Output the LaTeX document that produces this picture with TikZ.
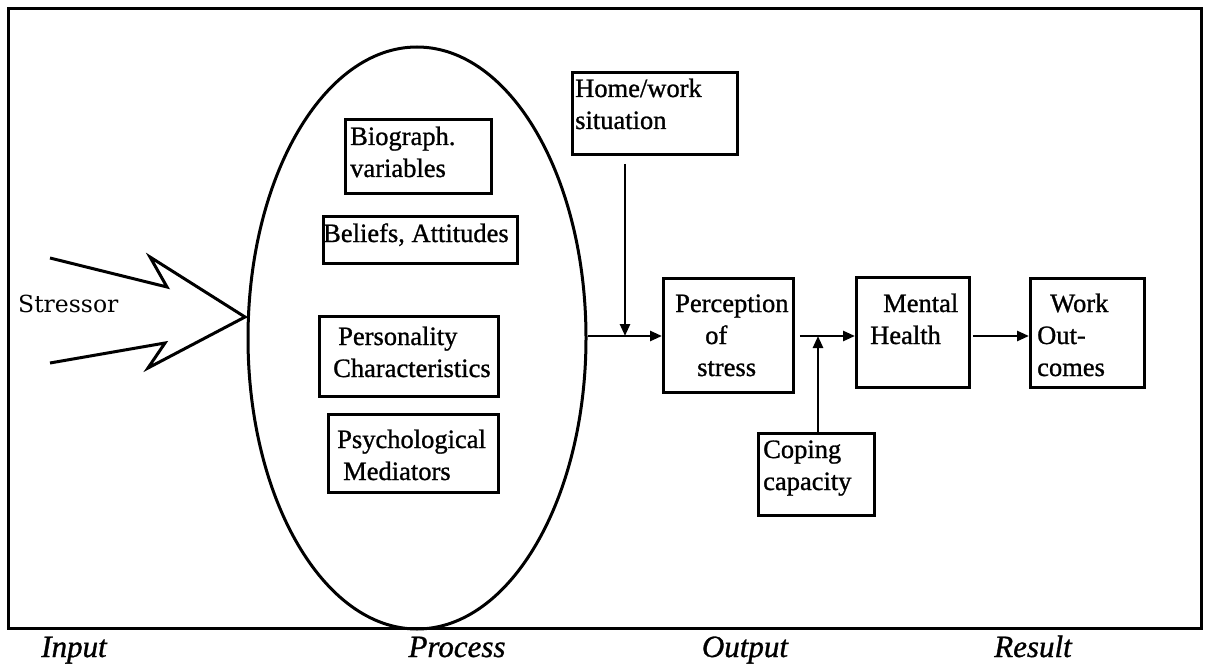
\documentclass[tikz,border=0pt]{standalone}
\usepackage{fontspec}
\setmainfont{Liberation Serif}[FakeBold=1]
\newfontfamily\slabfont{DejaVu Serif}
\usetikzlibrary{shapes.geometric,arrows.meta}
\begin{document}
\begin{tikzpicture}[x=1pt,y=-1pt,
  frame/.style={line width=3pt},
  box/.style={draw,line width=2.8pt,rectangle,inner sep=0pt,anchor=north west},
  txt/.style={inner sep=0pt,anchor=base west,font=\fontsize{26.5}{32}\selectfont},
  stage/.style={inner sep=0pt,anchor=base,font=\fontsize{31}{36}\selectfont\itshape},
  link/.style={line width=2.6pt,-{Triangle[length=12pt,width=10pt]}},
  spike/.style={line width=3pt,line join=miter}]
\useasboundingbox (0,0) rectangle (1207,666);
% outer frame
\draw[frame] (8,9) rectangle (1201,628);

% process ellipse with its inner boxes
\node[draw,ellipse,line width=3pt,minimum width=338pt,minimum height=582pt,inner sep=0pt] (proc) at (417,338) {};
\node[box,minimum width=146pt,minimum height=74pt] (bio) at (344,118) {};
\node[box,minimum width=194pt,minimum height=47pt] (bel) at (322,215) {};
\node[box,minimum width=179pt,minimum height=80pt] (pers) at (318,315) {};
\node[box,minimum width=170pt,minimum height=78pt] (psy) at (327,413) {};

% output side boxes
\node[box,minimum width=165pt,minimum height=82pt] (home) at (571,71) {};
\node[box,minimum width=130pt,minimum height=114pt] (perc) at (662,277) {};
\node[box,minimum width=116pt,minimum height=82pt] (cop) at (757,432) {};
\node[box,minimum width=113pt,minimum height=110pt] (ment) at (855,276) {};
\node[box,minimum width=114pt,minimum height=109pt] (work) at (1029,277) {};

% box texts
\node[txt] (tbio) at (350,145) {\vtop{\hbox{Biograph.}\hbox{variables}}};
\node[txt] (tbel) at (323,242) {Beliefs, Attitudes};
\node[txt] (tpers) at (333,345) {\vtop{\hbox{\hspace*{5pt}Personality}\hbox{Characteristics}}};
\node[txt] (tpsy) at (337,448) {\vtop{\hbox{Psychological}\hbox{\hspace*{6pt}Mediators}}};
\node[txt] (thome) at (575,97) {\vtop{\hbox{Home/work}\hbox{situation}}};
\node[txt] (tperc) at (675,312) {\vtop{\hbox{Perception}\hbox{\hspace*{30pt}of}\hbox{\hspace*{22pt}stress}}};
\node[txt] (tcop) at (763,458) {\vtop{\hbox{Coping}\hbox{capacity}}};
\node[txt] (tment) at (870,312) {\vtop{\hbox{\hspace*{13pt}Mental}\hbox{Health}}};
\node[txt] (twork) at (1037,312) {\vtop{\hbox{\hspace*{13pt}Work}\hbox{Out-}\hbox{comes}}};

% stressor input
\node[inner sep=0pt,anchor=base west,font=\slabfont\fontsize{23.5}{28}\selectfont] (stress) at (18,312) {Stressor};
\coordinate (tip) at (245,317);
\draw[spike] (50,258) -- (167,287) -- (150,257) -- (tip) -- (148,368) -- (165,343) -- (50,363);

% connectors
\coordinate (hw) at (625,336);
\coordinate (cp) at (818,336);
\draw[link] (proc.east |- cp) -- (perc.west |- cp);
\draw[link,shorten <=8pt] (home.south -| hw) -- (hw);
\draw[link,shorten <=5pt] (perc.east |- cp) -- (ment.west |- cp);
\draw[link] (cop.north -| cp) -- (cp);
\draw[link,shorten <=2pt] (ment.east |- cp) -- (work.west |- cp);

% stage labels
\node[stage] (lin) at (74,657) {Input};
\node[stage] (lpr) at (457,657) {Process};
\node[stage] (lout) at (745,657) {Output};
\node[stage] (lres) at (1033,657) {Result};
\end{tikzpicture}
\end{document}
